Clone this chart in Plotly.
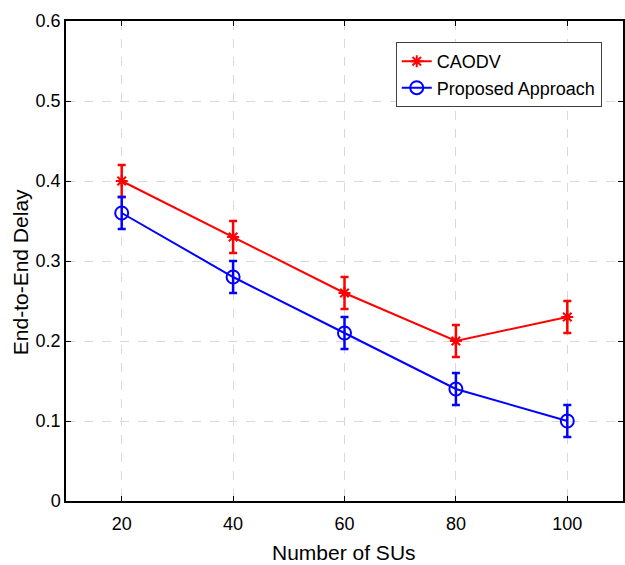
import plotly.graph_objects as go

num_sus = [20, 40, 60, 80, 100]
caodv = [0.40, 0.33, 0.26, 0.20, 0.23]
caodv_err = [0.02, 0.02, 0.02, 0.02, 0.02]
proposed = [0.36, 0.28, 0.21, 0.14, 0.10]
proposed_err = [0.02, 0.02, 0.02, 0.02, 0.02]

font = "Liberation Sans, Arial, sans-serif"

fig = go.Figure()
fig.add_trace(go.Scatter(
    x=num_sus, y=caodv, name="CAODV", mode="lines+markers",
    line=dict(color="red", width=2),
    marker=dict(symbol="asterisk-open", size=10, color="red", line=dict(color="red", width=2)),
    error_y=dict(type="data", array=caodv_err, color="red", thickness=2.5, width=4),
))
fig.add_trace(go.Scatter(
    x=num_sus, y=proposed, name="Proposed Approach", mode="lines+markers",
    line=dict(color="blue", width=2),
    marker=dict(symbol="circle-open", size=13, color="blue", line=dict(color="blue", width=2)),
    error_y=dict(type="data", array=proposed_err, color="blue", thickness=2.5, width=4),
))

axis_common = dict(
    showline=True, linecolor="black", linewidth=1.5, mirror="ticks",
    ticks="inside", ticklen=5, tickcolor="black",
    showgrid=True, gridcolor="#d9d9d9", griddash="dash", gridwidth=1,
    zeroline=False,
    tickfont=dict(family=font, size=18, color="black"),
)
fig.update_xaxes(range=[10, 110], tickvals=[20, 40, 60, 80, 100],
                 ticklabelstandoff=6,
                 **axis_common)
fig.update_yaxes(range=[0, 0.6], tickvals=[0, 0.1, 0.2, 0.3, 0.4, 0.5, 0.6],
                 ticktext=["0", "0.1", "0.2", "0.3", "0.4", "0.5", "0.6"],
                 **axis_common)

fig.add_annotation(text="Number of SUs", xref="paper", yref="paper",
                   x=(345 - 66) / 559, y=(501 - 552) / 480, xanchor="center", yanchor="middle",
                   showarrow=False, font=dict(family=font, size=21, color="black"))
fig.add_annotation(text="End-to-End Delay", textangle=-90, xref="paper", yref="paper",
                   x=-0.0823, y=0.477, xanchor="center", yanchor="middle", showarrow=False,
                   font=dict(family=font, size=21, color="black"))

fig.update_layout(
    width=625, height=565,
    margin=dict(l=66, r=0, t=21, b=64),
    plot_bgcolor="white", paper_bgcolor="white",
    showlegend=True,
    legend=dict(x=0.592, y=0.956, xanchor="left", yanchor="top",
                bgcolor="white", bordercolor="#404040", borderwidth=1,
                font=dict(family=font, size=18, color="black"),
                tracegroupgap=0, itemwidth=30),
)

fig.write_html("out.html")
